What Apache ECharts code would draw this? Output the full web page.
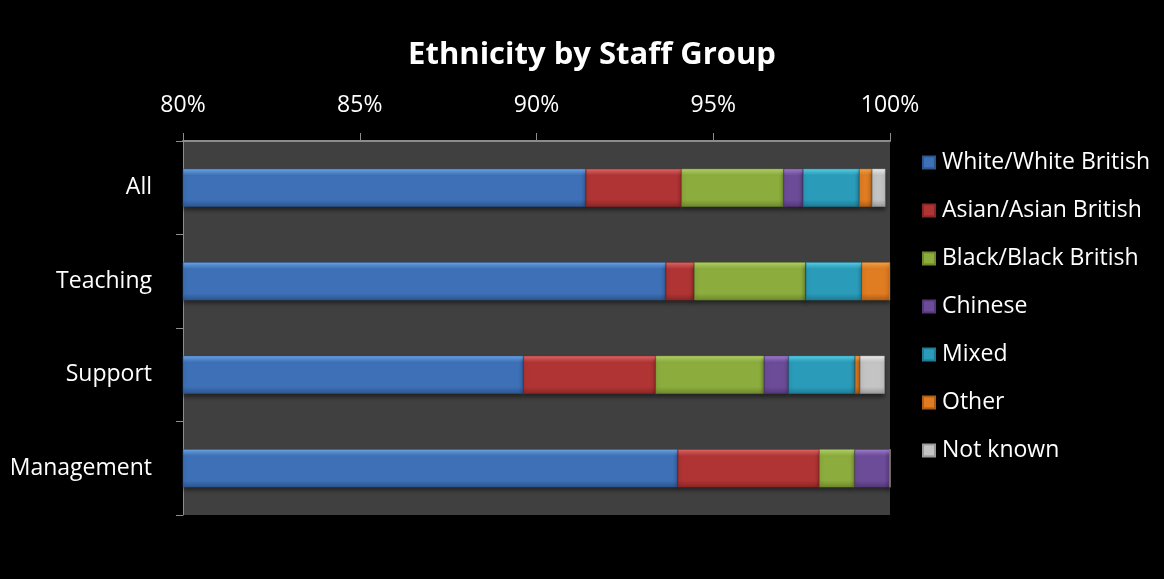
<!DOCTYPE html>
<html>
<head>
<meta charset="utf-8">
<script src="https://cdn.jsdelivr.net/npm/echarts@6/dist/echarts.min.js"></script>
<style>
html,body{margin:0;padding:0;background:#000;}
#chart{width:1164px;height:579px;}
</style>
</head>
<body>
<div id="chart"></div>
<script>
const categories = ['All', 'Teaching', 'Support', 'Management'];
const seriesNames = ['White/White British', 'Asian/Asian British', 'Black/Black British', 'Chinese', 'Mixed', 'Other', 'Not known'];
const whiteBritish = [91.4, 93.66, 89.63, 94.0];
const asianBritish = [2.7, 0.8, 3.74, 4.0];
const blackBritish = [2.89, 3.16, 3.07, 1.0];
const chinese = [0.55, 0, 0.69, 1.0];
const mixed = [1.59, 1.58, 1.88, 0];
const other = [0.36, 0.79, 0.14, 0];
const notKnown = [0.38, 0, 0.7, 0];
const xTicks = [80, 85, 90, 95, 100];

const seriesData = [whiteBritish, asianBritish, blackBritish, chinese, mixed, other, notKnown];
const palette = [
  ['#6eaaee', '#3d70b6', '#2c5690'],
  ['#e66a6a', '#b03434', '#8c2626'],
  ['#b8d868', '#8cac3e', '#6e8a2c'],
  ['#a580d4', '#6c4c98', '#54387a'],
  ['#5ad6ee', '#2a9cba', '#1e7c96'],
  ['#fba84a', '#e07c22', '#b05e14'],
  ['#f4f4f4', '#c4c4c4', '#9a9a9a']
];
function grad(c) {
  return new echarts.graphic.LinearGradient(0, 0, 0, 1, [
    {offset: 0, color: c[0]},
    {offset: 0.18, color: c[1]},
    {offset: 0.82, color: c[1]},
    {offset: 1, color: c[2]}
  ]);
}
const chart = echarts.init(document.getElementById('chart'));
const fontFam = '"Open Sans", Lato, sans-serif';
chart.setOption({
  backgroundColor: '#000',
  animation: false,
  title: {
    text: 'Ethnicity by Staff Group',
    left: 587, textAlign: 'center', top: 35,
    textStyle: {color: '#fff', fontSize: 31, fontWeight: 'bold', fontFamily: fontFam}
  },
  legend: {
    orient: 'vertical', left: 917, top: 146,
    itemWidth: 12, itemHeight: 12, itemGap: 25,
    icon: 'rect',
    textStyle: {color: '#fff', fontSize: 23, lineHeight: 23, fontFamily: fontFam, padding: [0, 0, 0, 2]},
    data: seriesNames
  },
  grid: {
    left: 183, right: 274, top: 141, bottom: 64,
    show: true, backgroundColor: '#404040', borderWidth: 0
  },
  xAxis: {
    type: 'value', position: 'top', min: 80, max: 100, interval: 5,
    axisLine: {show: true, lineStyle: {color: '#8c8c8c', width: 2}},
    axisTick: {show: true, length: 8, lineStyle: {color: '#8c8c8c'}},
    splitLine: {show: false},
    axisLabel: {color: '#fff', fontSize: 23, margin: 24, fontFamily: fontFam, formatter: v => v + '%'}
  },
  yAxis: {
    type: 'category', inverse: true, data: categories,
    axisLine: {show: true, lineStyle: {color: '#8c8c8c', width: 1}},
    axisTick: {show: true, length: 7, lineStyle: {color: '#8c8c8c'}},
    axisLabel: {color: '#fff', fontSize: 23, margin: 31, fontFamily: fontFam}
  },
  series: seriesNames.map((name, i) => ({
    name: name, type: 'bar', stack: 'total',
    barWidth: 38,
    data: seriesData[i],
    itemStyle: {
      color: grad(palette[i]),
      borderColor: palette[i][2], borderWidth: 0.5,
      shadowColor: 'rgba(0,0,0,0.45)', shadowBlur: 4, shadowOffsetY: 3
    }
  }))
});
</script>
</body>
</html>
